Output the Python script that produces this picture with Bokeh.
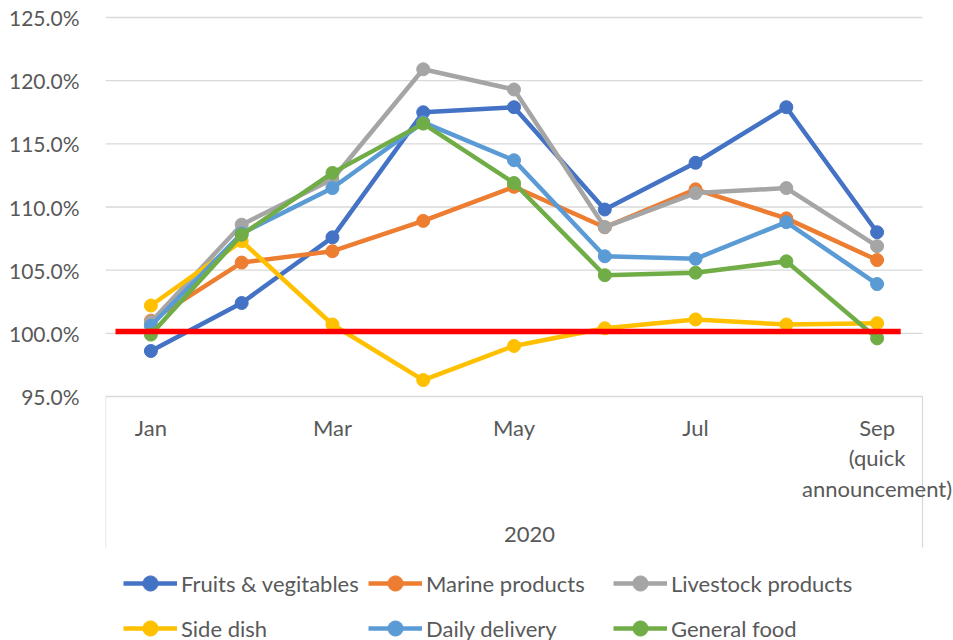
from bokeh.plotting import figure
from bokeh.models import (Range1d, FixedTicker, PrintfTickFormatter,
                          Legend, LegendItem)
from bokeh.embed import file_html
from bokeh.resources import INLINE

# ---------------- data ----------------
months = ["Jan", "Feb", "Mar", "Apr", "May", "Jun", "Jul", "Aug",
          "Sep\n(quick\nannouncement)"]
labelled_months = [0, 2, 4, 6, 8]
group_label = "2020"

series_names = ["Fruits & vegitables", "Marine products", "Livestock products",
                "Side dish", "Daily delivery", "General food"]
fruits_veg = [98.6, 102.4, 107.6, 117.5, 117.9, 109.8, 113.5, 117.9, 108.0]
marine = [101.0, 105.6, 106.5, 108.9, 111.6, 108.4, 111.4, 109.1, 105.8]
livestock = [100.9, 108.6, 112.2, 120.9, 119.3, 108.4, 111.1, 111.5, 106.9]
side_dish = [102.2, 107.3, 100.7, 96.3, 99.0, 100.4, 101.1, 100.7, 100.8]
daily_delivery = [100.6, 107.9, 111.5, 116.7, 113.7, 106.1, 105.9, 108.8, 103.9]
general_food = [99.9, 107.8, 112.7, 116.6, 111.9, 104.6, 104.8, 105.7, 99.6]

y_ticks = [95, 100, 105, 110, 115, 120, 125]
reference_level = 100.15
reference_x = [-0.39, 8.26]

# ---------------- style / layout ----------------
colors = ["#4472C4", "#ED7D31", "#A5A5A5", "#FFC000", "#5B9BD5", "#70AD47"]
FONT = "Lato"
TEXT = "#595959"
GRID = "#D9D9D9"

W, H = 953, 640
LEFT = 105
PLOT_RIGHT_PX = 922                # right edge of the gridded plot area
TOP_PX, BOTTOM_PX = 17, 396        # pixel rows of 125% and 95%
BOX_BOTTOM_PX = 547                # bottom of the category-axis box
n = len(months)
cat_px = (PLOT_RIGHT_PX - LEFT) / n
k = (BOTTOM_PX - TOP_PX) / (y_ticks[-1] - y_ticks[0])
y_start = y_ticks[0] - (H - BOTTOM_PX) / k
y_end = y_ticks[-1] + TOP_PX / k
x_lo, x_hi = -0.5, n - 0.5
x_end = x_hi + (W - PLOT_RIGHT_PX) / cat_px
box_bottom = y_ticks[0] - (BOX_BOTTOM_PX - BOTTOM_PX) / k

p = figure(width=W, height=H, output_backend="svg", toolbar_location=None,
           x_range=Range1d(x_lo, x_end),
           y_range=Range1d(y_start, y_end),
           min_border_left=LEFT, min_border_right=0,
           min_border_top=0, min_border_bottom=0)
p.outline_line_color = None
p.background_fill_color = "white"
p.border_fill_color = "white"
p.xgrid.visible = False
p.ygrid.visible = False

# horizontal gridlines limited to the plot area
p.segment(x0=[x_lo] * len(y_ticks), y0=y_ticks, x1=[x_hi] * len(y_ticks),
          y1=y_ticks, line_color=GRID, line_width=1.3)
# multi-level category box sides
p.segment(x0=[x_lo, x_hi], y0=[y_ticks[0]] * 2, x1=[x_lo, x_hi],
          y1=[box_bottom] * 2, line_color=GRID, line_width=1.3)

# y axis
yax = p.yaxis[0]
yax.ticker = FixedTicker(ticks=y_ticks)
yax.formatter = PrintfTickFormatter(format="%.1f%%")
yax.axis_line_color = None
yax.major_tick_line_color = None
yax.minor_tick_line_color = None
yax.major_label_standoff = 20
yax.major_label_text_font = FONT
yax.major_label_text_font_size = "21px"
yax.major_label_text_color = TEXT

# x axis (category labels) fixed at 95%
xax = p.xaxis[0]
xax.fixed_location = y_ticks[0]
xax.ticker = FixedTicker(ticks=labelled_months)
xax.major_label_overrides = {i: months[i] for i in labelled_months}
xax.axis_line_color = None
xax.major_tick_line_color = None
xax.minor_tick_line_color = None
xax.major_label_standoff = 11
xax.major_label_text_font = FONT
xax.major_label_text_font_size = "22px"
xax.major_label_text_color = TEXT
xax.major_label_text_line_height = 1.13
xax.axis_label = group_label
xax.axis_label_text_font = FONT
xax.axis_label_text_font_size = "22px"
xax.axis_label_text_font_style = "normal"
xax.axis_label_text_color = TEXT
xax.axis_label_standoff = 22

# series
x = list(range(n))
all_series = [fruits_veg, marine, livestock, side_dish, daily_delivery, general_food]
items = []
for name, vals, c in zip(series_names, all_series, colors):
    r1 = p.line(x, vals, line_color=c, line_width=4.5, line_join="round")
    r2 = p.scatter(x, vals, marker="circle", size=13, fill_color=c, line_color=c)
    items.append(LegendItem(label=name, renderers=[r1, r2]))

# reference line at 100%
p.line(reference_x, [reference_level, reference_level], line_color="#FF0000",
       line_width=5.5)

legend = Legend(items=items, orientation="horizontal", ncols=3,
                location=(18, -7), glyph_width=54, glyph_height=38,
                label_height=38, label_width=180, label_standoff=4,
                spacing=7, padding=0, margin=0,
                background_fill_alpha=0, border_line_alpha=0,
                label_text_font=FONT, label_text_font_size="22px",
                label_text_color=TEXT)
p.add_layout(legend, "center")

open("out.html", "w").write(file_html(p, INLINE))
